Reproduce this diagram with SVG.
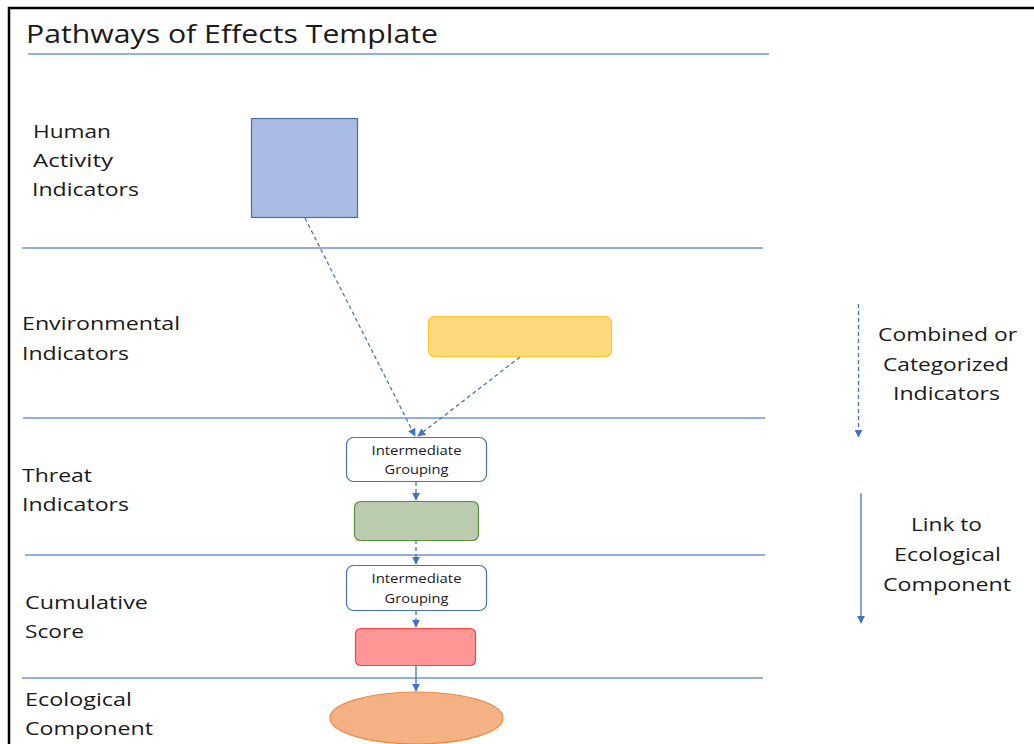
<svg xmlns="http://www.w3.org/2000/svg" width="1034" height="744" viewBox="0 0 1034 744">
<defs>
<marker id="ah" viewBox="0 0 10 10" refX="9" refY="5" markerWidth="8" markerHeight="8" markerUnits="userSpaceOnUse" orient="auto">
<path d="M0,0 L10,5 L0,10 z" fill="#4472C4"/>
</marker>
<style>
text{font-family:"Open Sans","Liberation Sans",sans-serif;fill:#1a1a1a}
.lbl{font-size:19px}
.title{font-size:26px}
.ig{font-size:13px;text-anchor:middle}
.sep{stroke:#6F93D6;stroke-width:1.3;fill:none}
.c{stroke:#4472C4;stroke-width:1.3;fill:none;marker-end:url(#ah)}
.d{stroke-dasharray:4 3}
</style>
</defs>
<rect width="1034" height="744" fill="#fff"/>
<path d="M9,744 V8 H1034" fill="none" stroke="#000" stroke-width="2.5"/>
<text class="title" x="26" y="43" textLength="412" lengthAdjust="spacingAndGlyphs">Pathways of Effects Template</text>
<g id="separators">
<line class="sep" x1="28" y1="54" x2="769" y2="54"/>
<line class="sep" x1="22" y1="248" x2="763" y2="248"/>
<line class="sep" x1="23" y1="418" x2="765" y2="418"/>
<line class="sep" x1="25" y1="555" x2="765" y2="555"/>
<line class="sep" x1="22" y1="678" x2="763" y2="678"/>
</g>
<g id="labels">
<text class="lbl" x="33" y="138" textLength="78" lengthAdjust="spacingAndGlyphs">Human</text>
<text class="lbl" x="33" y="167" textLength="80" lengthAdjust="spacingAndGlyphs">Activity</text>
<text class="lbl" x="32" y="196" textLength="107" lengthAdjust="spacingAndGlyphs">Indicators</text>
<text class="lbl" x="22" y="330" textLength="158" lengthAdjust="spacingAndGlyphs">Environmental</text>
<text class="lbl" x="22" y="360" textLength="107" lengthAdjust="spacingAndGlyphs">Indicators</text>
<text class="lbl" x="22" y="482" textLength="70" lengthAdjust="spacingAndGlyphs">Threat</text>
<text class="lbl" x="22" y="511" textLength="107" lengthAdjust="spacingAndGlyphs">Indicators</text>
<text class="lbl" x="25" y="609" textLength="123" lengthAdjust="spacingAndGlyphs">Cumulative</text>
<text class="lbl" x="25" y="638" textLength="59" lengthAdjust="spacingAndGlyphs">Score</text>
<text class="lbl" x="25" y="706" textLength="107" lengthAdjust="spacingAndGlyphs">Ecological</text>
<text class="lbl" x="25" y="735" textLength="128" lengthAdjust="spacingAndGlyphs">Component</text>
<text class="lbl" x="878" y="341" textLength="139" lengthAdjust="spacingAndGlyphs">Combined or</text>
<text class="lbl" x="883" y="371" textLength="126" lengthAdjust="spacingAndGlyphs">Categorized</text>
<text class="lbl" x="893" y="400" textLength="107" lengthAdjust="spacingAndGlyphs">Indicators</text>
<text class="lbl" x="911" y="531" textLength="71" lengthAdjust="spacingAndGlyphs">Link to</text>
<text class="lbl" x="894" y="561" textLength="107" lengthAdjust="spacingAndGlyphs">Ecological</text>
<text class="lbl" x="883" y="591" textLength="128" lengthAdjust="spacingAndGlyphs">Component</text>
</g>
<g id="connectors">
<line class="c d" x1="305" y1="218" x2="415" y2="436"/>
<line class="c d" x1="520" y1="357" x2="418" y2="436"/>
<line class="c d" x1="416" y1="482" x2="416" y2="500"/>
<line class="c d" x1="416" y1="540" x2="416" y2="564"/>
<line class="c d" x1="416" y1="611" x2="416" y2="627"/>
<line class="c" x1="416" y1="666" x2="416" y2="691"/>
<line class="c d" x1="858.5" y1="304" x2="858.5" y2="437"/>
<line class="c" x1="861" y1="493" x2="861" y2="623"/>
</g>
<g id="human-activity">
<rect x="251.5" y="118.5" width="106" height="99" fill="#A9BCE3" stroke="#4A6BAE" stroke-width="1.2"/>
</g>
<g id="environmental">
<rect x="428.5" y="316.5" width="183" height="40" rx="6" fill="#FFD97C" stroke="#FFC42E" stroke-width="1.2"/>
</g>
<g id="grouping1">
<rect x="346.5" y="437.5" width="140" height="44" rx="7" fill="#fff" stroke="#4A6FB5" stroke-width="1.2"/>
<text class="ig" x="416.5" y="454.5" textLength="90" lengthAdjust="spacingAndGlyphs">Intermediate</text>
<text class="ig" x="416.5" y="473.5" textLength="64" lengthAdjust="spacingAndGlyphs">Grouping</text>
</g>
<g id="threat">
<rect x="354.5" y="501.5" width="124" height="39" rx="6" fill="#BBCCAE" stroke="#5B8C3C" stroke-width="1.2"/>
</g>
<g id="grouping2">
<rect x="346.5" y="565.5" width="140" height="45" rx="7" fill="#fff" stroke="#4A6FB5" stroke-width="1.2"/>
<text class="ig" x="416.5" y="583" textLength="90" lengthAdjust="spacingAndGlyphs">Intermediate</text>
<text class="ig" x="416.5" y="602.5" textLength="64" lengthAdjust="spacingAndGlyphs">Grouping</text>
</g>
<g id="cumulative">
<rect x="355.5" y="628.5" width="120" height="37" rx="5" fill="#FF9797" stroke="#FF4040" stroke-width="1.2"/>
</g>
<g id="ecological">
<ellipse cx="416.5" cy="718" rx="86.5" ry="26" fill="#F4B183" stroke="#ED8A45" stroke-width="1.2"/>
</g>
</svg>
